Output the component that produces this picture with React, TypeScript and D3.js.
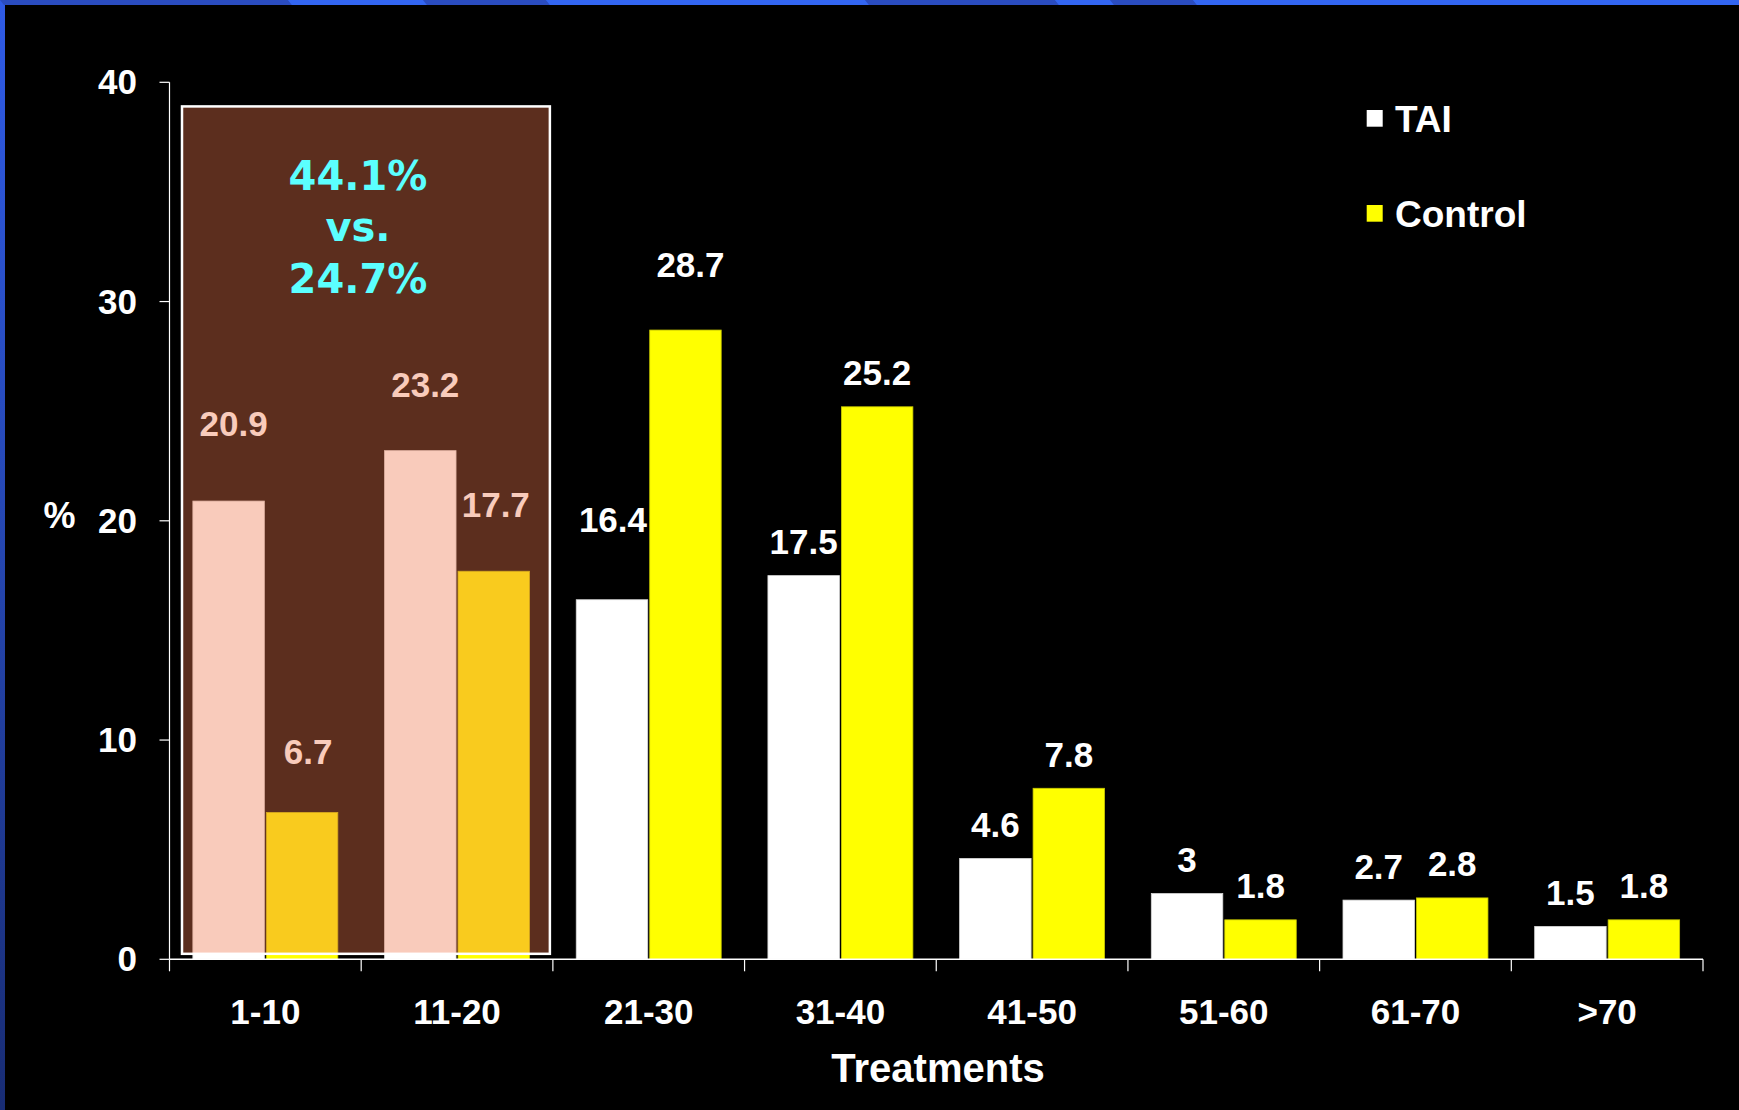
import React from "react";
import * as d3 from "d3";

// ---- data ----
const categories = ["1-10", "11-20", "21-30", "31-40", "41-50", "51-60", "61-70", ">70"];
const series = ["TAI", "Control"];
const taiValues = [20.9, 23.2, 16.4, 17.5, 4.6, 3, 2.7, 1.5];
const controlValues = [6.7, 17.7, 28.7, 25.2, 7.8, 1.8, 2.8, 1.8];
const yTicks = [0, 10, 20, 30, 40];
const highlightLines = ["44.1%", "vs.", "24.7%"];
const highlightCategories = ["1-10", "11-20"];

// manual label nudges (layout only): [dx, extra dy] per category per series
const labelNudgeTAI = [[5, -44], [5, -32], [1, -46], [0, 0], [0, 0], [0, 0], [0, 0], [0, 0]];
const labelNudgeControl = [[6, -27], [2, -33], [5, -32], [0, 0], [0, 0], [0, 0], [0, 0], [0, 0]];

const W = 1739;
const H = 1110;
const FONT = "'Liberation Sans', Arial, Helvetica, sans-serif";

export default function App() {
  const x = d3.scaleBand<string>().domain(categories).range([169.5, 1703]).paddingInner(0).paddingOuter(0);
  const xs = d3.scaleBand<string>().domain(series).range([0, x.bandwidth()]).paddingInner(0.027).paddingOuter(0.318);
  const y = d3.scaleLinear().domain([0, 40]).range([959.3, 82.3]);

  const colors: Record<string, string> = { TAI: "#ffffff", Control: "#ffff00" };
  const valuesBy: Record<string, number[]> = { TAI: taiValues, Control: controlValues };
  const nudgeBy: Record<string, number[][]> = { TAI: labelNudgeTAI, Control: labelNudgeControl };

  const boxX0 = (x(highlightCategories[0]) as number) + 12.5;
  const boxX1 = (x(highlightCategories[1]) as number) + x.bandwidth() - 3;
  const boxY0 = y(38.9);
  const boxY1 = y(0.25);

  const axisX0 = x.range()[0];
  const axisX1 = x.range()[1];

  // top band segments (decorative)
  const topSegs: [number, number, string][] = [
    [0, 288, "#2a4cc0"], [288, 423, "#3366f2"], [423, 546, "#2a4cc0"], [546, 865, "#3366f2"],
    [865, 1055, "#2a4cc0"], [1055, 1110, "#3366f2"], [1110, 1193, "#2a4cc0"], [1193, W, "#3366f2"],
  ];

  return (
    <svg width={W} height={H} style={{ position: "absolute", left: 0, top: 0, display: "block" }} fontFamily={FONT}>
      <defs>
        <linearGradient id="leftband" x1="0" y1="0" x2="0" y2="1">
          <stop offset="0%" stopColor="#2f5be6" />
          <stop offset="50%" stopColor="#2546b0" />
          <stop offset="100%" stopColor="#182c74" />
        </linearGradient>
      </defs>
      <rect x={0} y={0} width={W} height={H} fill="url(#leftband)" />
      {topSegs.map(([a, b, c], i) => (
        <polygon key={i} points={`${a},0 ${b},0 ${b + 4},5 ${a + 4},5`} fill={c} />
      ))}
      <rect x={5} y={5} width={W - 5} height={H - 5} fill="#000" />

      {/* bars */}
      {categories.map((cat, i) => (
        <g key={cat} transform={`translate(${x(cat)},0)`}>
          {series.map((s) => {
            const v = valuesBy[s][i];
            return (
              <rect key={s} x={xs(s)} y={y(v)} width={xs.bandwidth()} height={y(0) - y(v)} fill={colors[s]}
                stroke={s === "Control" ? "#c8c800" : "#d8d8d8"} strokeWidth={0.8} />
            );
          })}
          {series.map((s) => {
            const v = valuesBy[s][i];
            const [dx, dy] = nudgeBy[s][i];
            return (
              <text key={s} x={(xs(s) as number) + xs.bandwidth() / 2 + dx} y={y(v) - 21.5 + dy}
                textAnchor="middle" fontSize={35} fontWeight="bold" fill="#fff">
                {String(v)}
              </text>
            );
          })}
        </g>
      ))}

      {/* highlight overlay */}
      <rect x={boxX0} y={boxY0} width={boxX1 - boxX0} height={boxY1 - boxY0} fill="rgb(240,120,78)" fillOpacity={0.384} />
      <rect x={boxX0} y={boxY0} width={boxX1 - boxX0} height={boxY1 - boxY0} fill="none" stroke="#fff" strokeWidth={2.5} />
      {highlightLines.map((t, i) => (
        <text key={i} x={358} y={190 + i * 51.3} textAnchor="middle" fontSize={40} fontWeight="bold"
          fontFamily="'DejaVu Sans', Verdana, sans-serif" fill="#5bffff">
          {t}
        </text>
      ))}

      {/* y axis */}
      <line x1={axisX0} x2={axisX0} y1={y(40)} y2={y(0)} stroke="#fff" strokeWidth={1.2} />
      {yTicks.map((t) => (
        <g key={t}>
          <line x1={axisX0 - 10} x2={axisX0} y1={y(t)} y2={y(t)} stroke="#fff" strokeWidth={1.2} />
          <text x={137} y={y(t) + 12} textAnchor="end" fontSize={35} fontWeight="bold" fill="#fff">{t}</text>
        </g>
      ))}
      <text x={59.5} y={528} textAnchor="middle" fontSize={36} fontWeight="bold" fill="#fff">%</text>

      {/* x axis */}
      <line x1={axisX0} x2={axisX1} y1={y(0)} y2={y(0)} stroke="#fff" strokeWidth={1.5} />
      {[...categories.map((c) => x(c) as number), axisX1].map((px, i) => (
        <line key={i} x1={px} x2={px} y1={y(0)} y2={y(0) + 12} stroke="#fff" strokeWidth={1.2} />
      ))}
      {categories.map((c) => (
        <text key={c} x={(x(c) as number) + x.bandwidth() / 2} y={1023.5} textAnchor="middle" fontSize={35}
          fontWeight="bold" fill="#fff">
          {c}
        </text>
      ))}
      <text x={938} y={1081.5} textAnchor="middle" fontSize={40} fontWeight="bold" fill="#fff">Treatments</text>

      {/* legend */}
      {series.map((s, i) => (
        <g key={s}>
          <rect x={1366.7} y={110 + i * 95} width={16} height={16.7} fill={colors[s]} />
          <text x={1395} y={131.5 + i * 95} fontSize={37} fontWeight="bold" fill="#fff">{s}</text>
        </g>
      ))}
    </svg>
  );
}
